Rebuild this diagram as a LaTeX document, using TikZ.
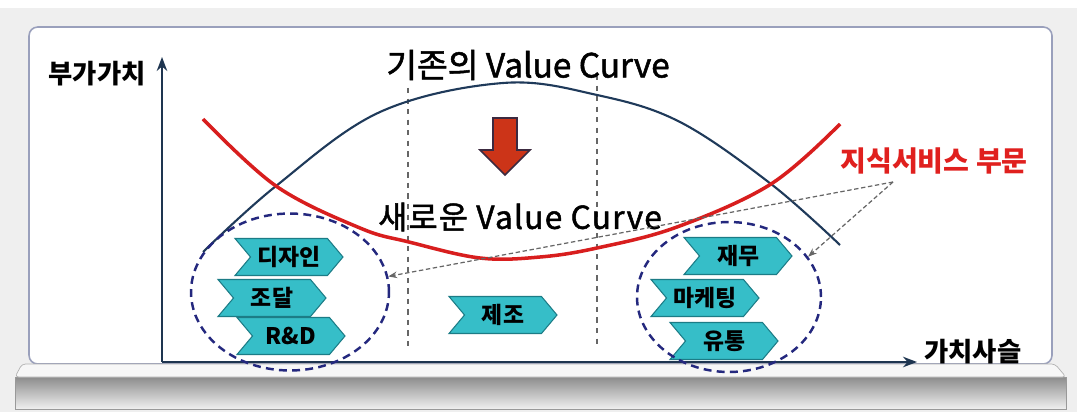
\documentclass[tikz,border=0pt]{standalone}
\usepackage{fontspec}
\setmainfont{Noto Sans CJK KR}
\newfontfamily\krheavy[FakeBold=1.5]{Noto Sans CJK KR}
\usetikzlibrary{arrows.meta,shapes.geometric,shapes.symbols}
\definecolor{bgcol}{HTML}{EFEFEF}
\definecolor{framecol}{HTML}{9AA0BC}
\definecolor{axiscol}{HTML}{1E3550}
\definecolor{oldcol}{HTML}{1F3A5A}
\definecolor{newcol}{HTML}{D81E1E}
\definecolor{groupcol}{HTML}{24287E}
\definecolor{chevfill}{HTML}{36BEC8}
\definecolor{chevdraw}{HTML}{1C7C86}
\definecolor{guidecol}{HTML}{666666}
\definecolor{labelcol}{HTML}{E0201E}
\definecolor{arrowcol}{HTML}{CC3418}
\definecolor{arrowedge}{HTML}{3C2A40}
\tikzset{
  every node/.style={inner sep=0pt},
  chev/.style={signal, signal to=east, signal from=west, signal pointer angle=100,
    fill=chevfill, draw=chevdraw, line width=0.6pt,
    minimum width=2.16cm, minimum height=0.74cm,
    font=\fontsize{13}{13}\selectfont\bfseries},
  grp/.style={ellipse, draw=groupcol, line width=1.4pt, dash pattern=on 4.5pt off 3pt},
  axislbl/.style={font=\fontsize{15}{15}\selectfont\bfseries},
  curvelbl/.style={font=\fontsize{19}{19}\selectfont\krheavy},
  guide/.style={guidecol, line width=0.8pt, dash pattern=on 3pt off 3pt},
  pointer/.style={guidecol, line width=0.7pt, dash pattern=on 2.5pt off 1.5pt, -{Stealth[length=5pt]}}
}

\begin{document}
\begin{tikzpicture}[x=0.02cm, y=-0.02cm, >=Stealth]
  \useasboundingbox (0,0) rectangle (1077,412);

  % Backdrop, board and shelf.
  \fill[bgcol] (0,0) rectangle (1077,412);
  \fill[white] (0,0) rectangle (1077,8);
  \draw[framecol, fill=white, rounded corners=5pt, line width=0.9pt] (29,27) rectangle (1052,364);
  \draw[black!40, top color=black!45, bottom color=black!6] (15,377) rectangle (1066,409);
  \draw[black!30, fill=black!3, rounded corners=2pt] (22,364) -- (1055,364) -- (1066,377) -- (15,377) -- cycle;

  % Axes.
  \coordinate (origin) at (162,362);
  \coordinate (ytip) at (162,57);
  \coordinate (xtip) at (917,362);
  \draw[->, line width=1.1pt, axiscol] (origin) -- (ytip);
  \draw[->, line width=1.1pt, axiscol] (origin) -- (xtip);
  \node[axislbl, anchor=east] (ylab) at (146,74) {부가가치};
  \node[axislbl, anchor=west] (xlab) at (924,352) {가치사슬};

  % Stage boundaries (dashed).
  \draw[guide] (408,88) -- (408,346);
  \draw[guide] (597,75) -- (597,346);

  % Existing value curve.
  \draw[oldcol, line width=1.2pt] plot[smooth, tension=0.6] coordinates
    {(203,252) (276,186) (380,112) (503,83) (597,95) (680,122) (771,184) (840,245)};
  \node[curvelbl] (oldlab) at (528,65) {기존의 Value Curve};

  % New value curve.
  \draw[newcol, line width=2pt] plot[smooth, tension=0.6] coordinates
    {(203,119) (276,186) (360,228) (409,242) (480,258) (540,257) (597,248) (677,227) (771,184) (840,124)};
  \node[curvelbl, font=\fontsize{18}{18}\selectfont\krheavy\addfontfeatures{LetterSpace=4}] (newlab) at (520,217) {새로운 Value Curve};

  % Shift arrow.
  \draw[arrowedge, fill=arrowcol, line width=0.9pt]
    (493,118) -- (517,118) -- (517,150) -- (530,150) -- (505,175) -- (480,150) -- (493,150) -- cycle;

  % Value chain steps.
  \foreach \nm/\x/\y/\txt in {dsn/289/257/디자인, prc/272/298/조달, rnd/291/336/R\&D,
      mfg/503/315/제조, fin/738/256/재무, mkt/705/298/마케팅, dst/724/341/유통} {
    \node[chev] (\nm) at (\x,\y) {\txt};
  }

  % Knowledge service groups.
  \node[grp, minimum width=3.96cm, minimum height=3.14cm] (lgrp) at (290,292) {};
  \node[grp, minimum width=3.68cm, minimum height=3.0cm] (rgrp) at (729,297) {};

  % Group label and pointers.
  \node[text=labelcol, font=\fontsize{16}{16}\selectfont\bfseries] (svc) at (934,161) {지식서비스 부문};
  \coordinate (src) at (893,182);
  \draw[pointer] (src) -- (lgrp.9);
  \draw[pointer] (src) -- (rgrp.27);

\end{tikzpicture}
\end{document}
